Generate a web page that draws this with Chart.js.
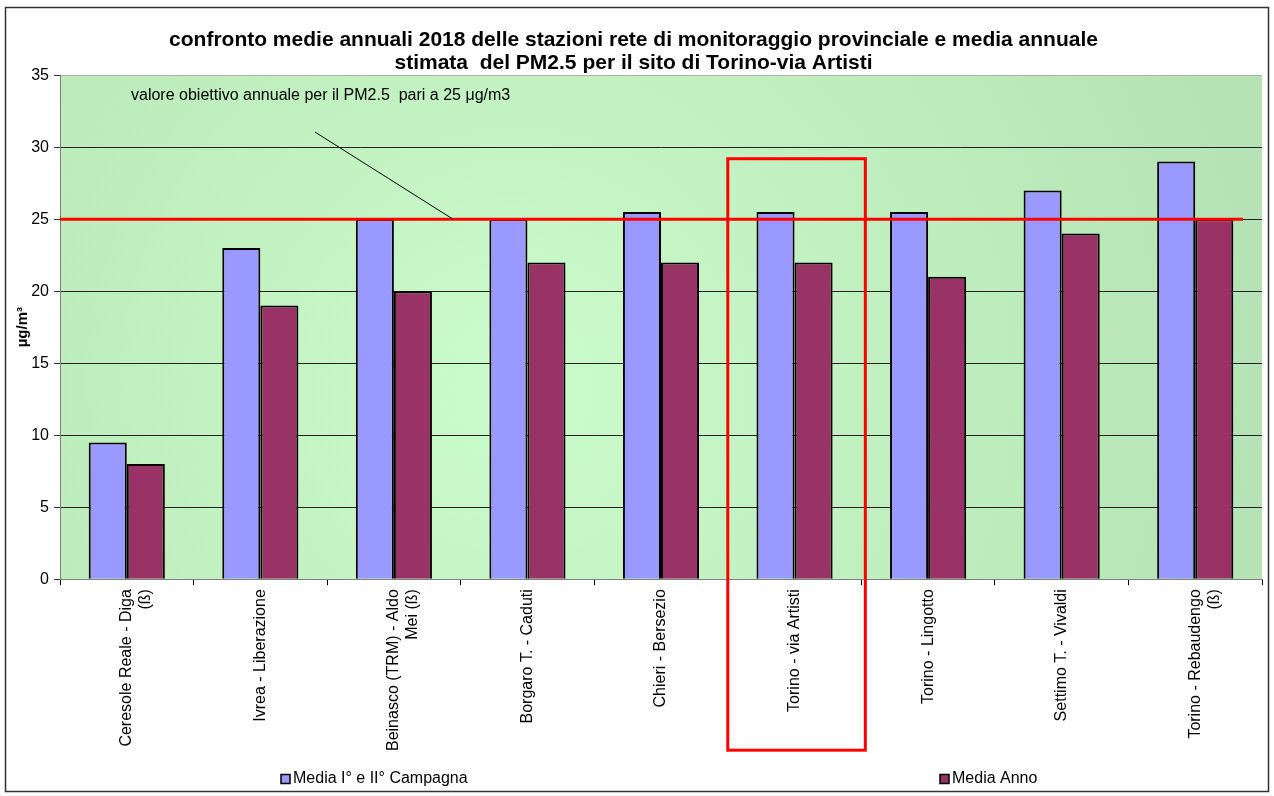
<!DOCTYPE html>
<html><head><meta charset="utf-8">
<script src="https://cdn.jsdelivr.net/npm/chart.js@4/dist/chart.umd.min.js"></script>
<style>html,body{margin:0;padding:0;background:#fff}#wrap{width:1274px;height:796px;position:relative}</style>
</head><body><div id="wrap"><canvas id="c" width="1274" height="796"></canvas></div>
<script>
const categories = [["Ceresole Reale - Diga","(ß)"],"Ivrea - Liberazione",["Beinasco (TRM) - Aldo","Mei (ß)"],"Borgaro T. - Caduti","Chieri - Bersezio","Torino - via Artisti","Torino - Lingotto","Settimo T. - Vivaldi",["Torino - Rebaudengo","(ß)"]];
const mediaCampagna = [9.5, 23, 25, 25, 25.5, 25.5, 25.5, 27, 29];
const mediaAnno = [8, 19, 20, 22, 22, 22, 21, 24, 25];
const seriesNames = ["Media I° e II° Campagna", "Media Anno"];
const yTicks = [0, 5, 10, 15, 20, 25, 30, 35];
const titleLines = ["confronto medie annuali 2018 delle stazioni rete di monitoraggio provinciale e media annuale", "stimata  del PM2.5 per il sito di Torino-via Artisti"];
const yTitle = "µg/m³";
const targetValue = 25;
const targetLabel = "valore obiettivo annuale per il PM2.5  pari a 25 μg/m3";
const labelValue = 33.6;
const leaderStartValue = 31.05;
const highlightIndex = 5;
const highlightTopValue = 29.2;

const FONT = "Arial, 'Liberation Sans', sans-serif";

const bgPlugin = {
  id: 'bg',
  beforeDraw(chart) {
    const ctx = chart.ctx, a = chart.chartArea;
    ctx.save();
    ctx.fillStyle = '#fff';
    ctx.fillRect(0, 0, chart.width, chart.height);
    const cx = a.left + 0.38 * (a.right - a.left), cy = a.top + 0.62 * (a.bottom - a.top);
    const g = ctx.createRadialGradient(cx, cy, 0, cx, cy, 0.62 * (a.right - a.left));
    g.addColorStop(0, '#cbfccb');
    g.addColorStop(1, '#b5e3b5');
    ctx.fillStyle = g;
    ctx.fillRect(a.left, a.top, a.right - a.left, a.bottom - a.top);
    ctx.strokeStyle = '#333';
    ctx.lineWidth = 1.5;
    ctx.strokeRect(5.5, 7.5, chart.width - 11, chart.height - 12);
    ctx.restore();
  }
};

const overlayPlugin = {
  id: 'overlay',
  afterDatasetsDraw(chart) {
    const ctx = chart.ctx, a = chart.chartArea;
    const ys = chart.scales.y, xs = chart.scales.x;
    const yT = ys.getPixelForValue(targetValue);
    ctx.save();
    ctx.strokeStyle = '#ff0000';
    ctx.lineWidth = 3;
    ctx.beginPath();
    ctx.moveTo(a.left, yT);
    ctx.lineTo(a.right - 19, yT);
    ctx.stroke();
    ctx.strokeStyle = '#000';
    ctx.lineWidth = 1;
    ctx.beginPath();
    ctx.moveTo(a.left + 255, ys.getPixelForValue(leaderStartValue));
    ctx.lineTo(a.left + 393, yT);
    ctx.stroke();
    ctx.fillStyle = '#000';
    ctx.font = '16px ' + FONT;
    ctx.textBaseline = 'middle';
    ctx.textAlign = 'left';
    ctx.fillText(targetLabel, a.left + 71, ys.getPixelForValue(labelValue));
    const cw = (a.right - a.left) / categories.length;
    const cx = xs.getPixelForValue(highlightIndex);
    const top = ys.getPixelForValue(highlightTopValue);
    ctx.strokeStyle = '#ff0000';
    ctx.lineWidth = 3;
    ctx.strokeRect(cx - cw / 2, top, cw + 4, a.bottom + 171 - top);
    ctx.restore();
  },
  afterDraw(chart) {
    const ctx = chart.ctx;
    const positions = [281, 940];
    ctx.save();
    ctx.font = '16px ' + FONT;
    ctx.textBaseline = 'middle';
    ctx.textAlign = 'left';
    chart.data.datasets.forEach((ds, i) => {
      const x = positions[i], y = 779;
      ctx.fillStyle = ds.backgroundColor;
      ctx.fillRect(x, y - 4.5, 9, 9);
      ctx.strokeStyle = '#000';
      ctx.lineWidth = 1.5;
      ctx.strokeRect(x, y - 4.5, 9, 9);
      ctx.fillStyle = '#000';
      ctx.fillText(ds.label, x + 12, y);
    });
    ctx.restore();
  }
};

new Chart(document.getElementById('c'), {
  type: 'bar',
  data: {
    labels: categories,
    datasets: [
      { label: seriesNames[0], data: mediaCampagna, backgroundColor: '#9999ff', borderColor: '#000', borderWidth: 2 },
      { label: seriesNames[1], data: mediaAnno, backgroundColor: '#993366', borderColor: '#000', borderWidth: 2 }
    ]
  },
  options: {
    responsive: false,
    animation: false,
    devicePixelRatio: 1,
    layout: { padding: { left: 5, right: 12, top: 0, bottom: 41 } },
    datasets: { bar: { categoryPercentage: 0.57, barPercentage: 1 } },
    plugins: {
      legend: { display: false },
      tooltip: { enabled: false },
      title: {
        display: true,
        text: titleLines,
        color: '#000',
        font: { family: FONT, size: 21, weight: 'bold', lineHeight: 1.1 },
        padding: { top: 29, bottom: 0 }
      }
    },
    scales: {
      x: {
        grid: { display: true, drawOnChartArea: false, drawTicks: true, tickLength: 6, color: '#000' },
        border: { display: true, color: '#808080', width: 1 },
        ticks: { color: '#000', font: { family: FONT, size: 16 }, minRotation: 90, maxRotation: 90, autoSkip: false, padding: 4 }
      },
      y: {
        min: 0, max: 35,
        afterBuildTicks(scale) { scale.ticks = yTicks.map(v => ({ value: v })); },
        afterFit(scale) { scale.width = 55; },
        grid: {
          drawTicks: true, tickLength: 6,
          color: ctx => ctx.tick && ctx.tick.value === 35 ? '#b0b0b0' : (ctx.tick && ctx.tick.value === 0 ? 'rgba(0,0,0,0)' : '#222'),
          tickColor: '#333', lineWidth: 1
        },
        border: { display: true, color: '#808080', width: 1 },
        ticks: { color: '#000', font: { family: FONT, size: 16 }, padding: 5 },
        title: { display: true, text: yTitle, color: '#000', font: { family: FONT, size: 15, weight: 'bold', lineHeight: 1.2 }, padding: { top: 9, bottom: 0 } }
      }
    }
  },
  plugins: [bgPlugin, overlayPlugin]
});
</script>
</body></html>
